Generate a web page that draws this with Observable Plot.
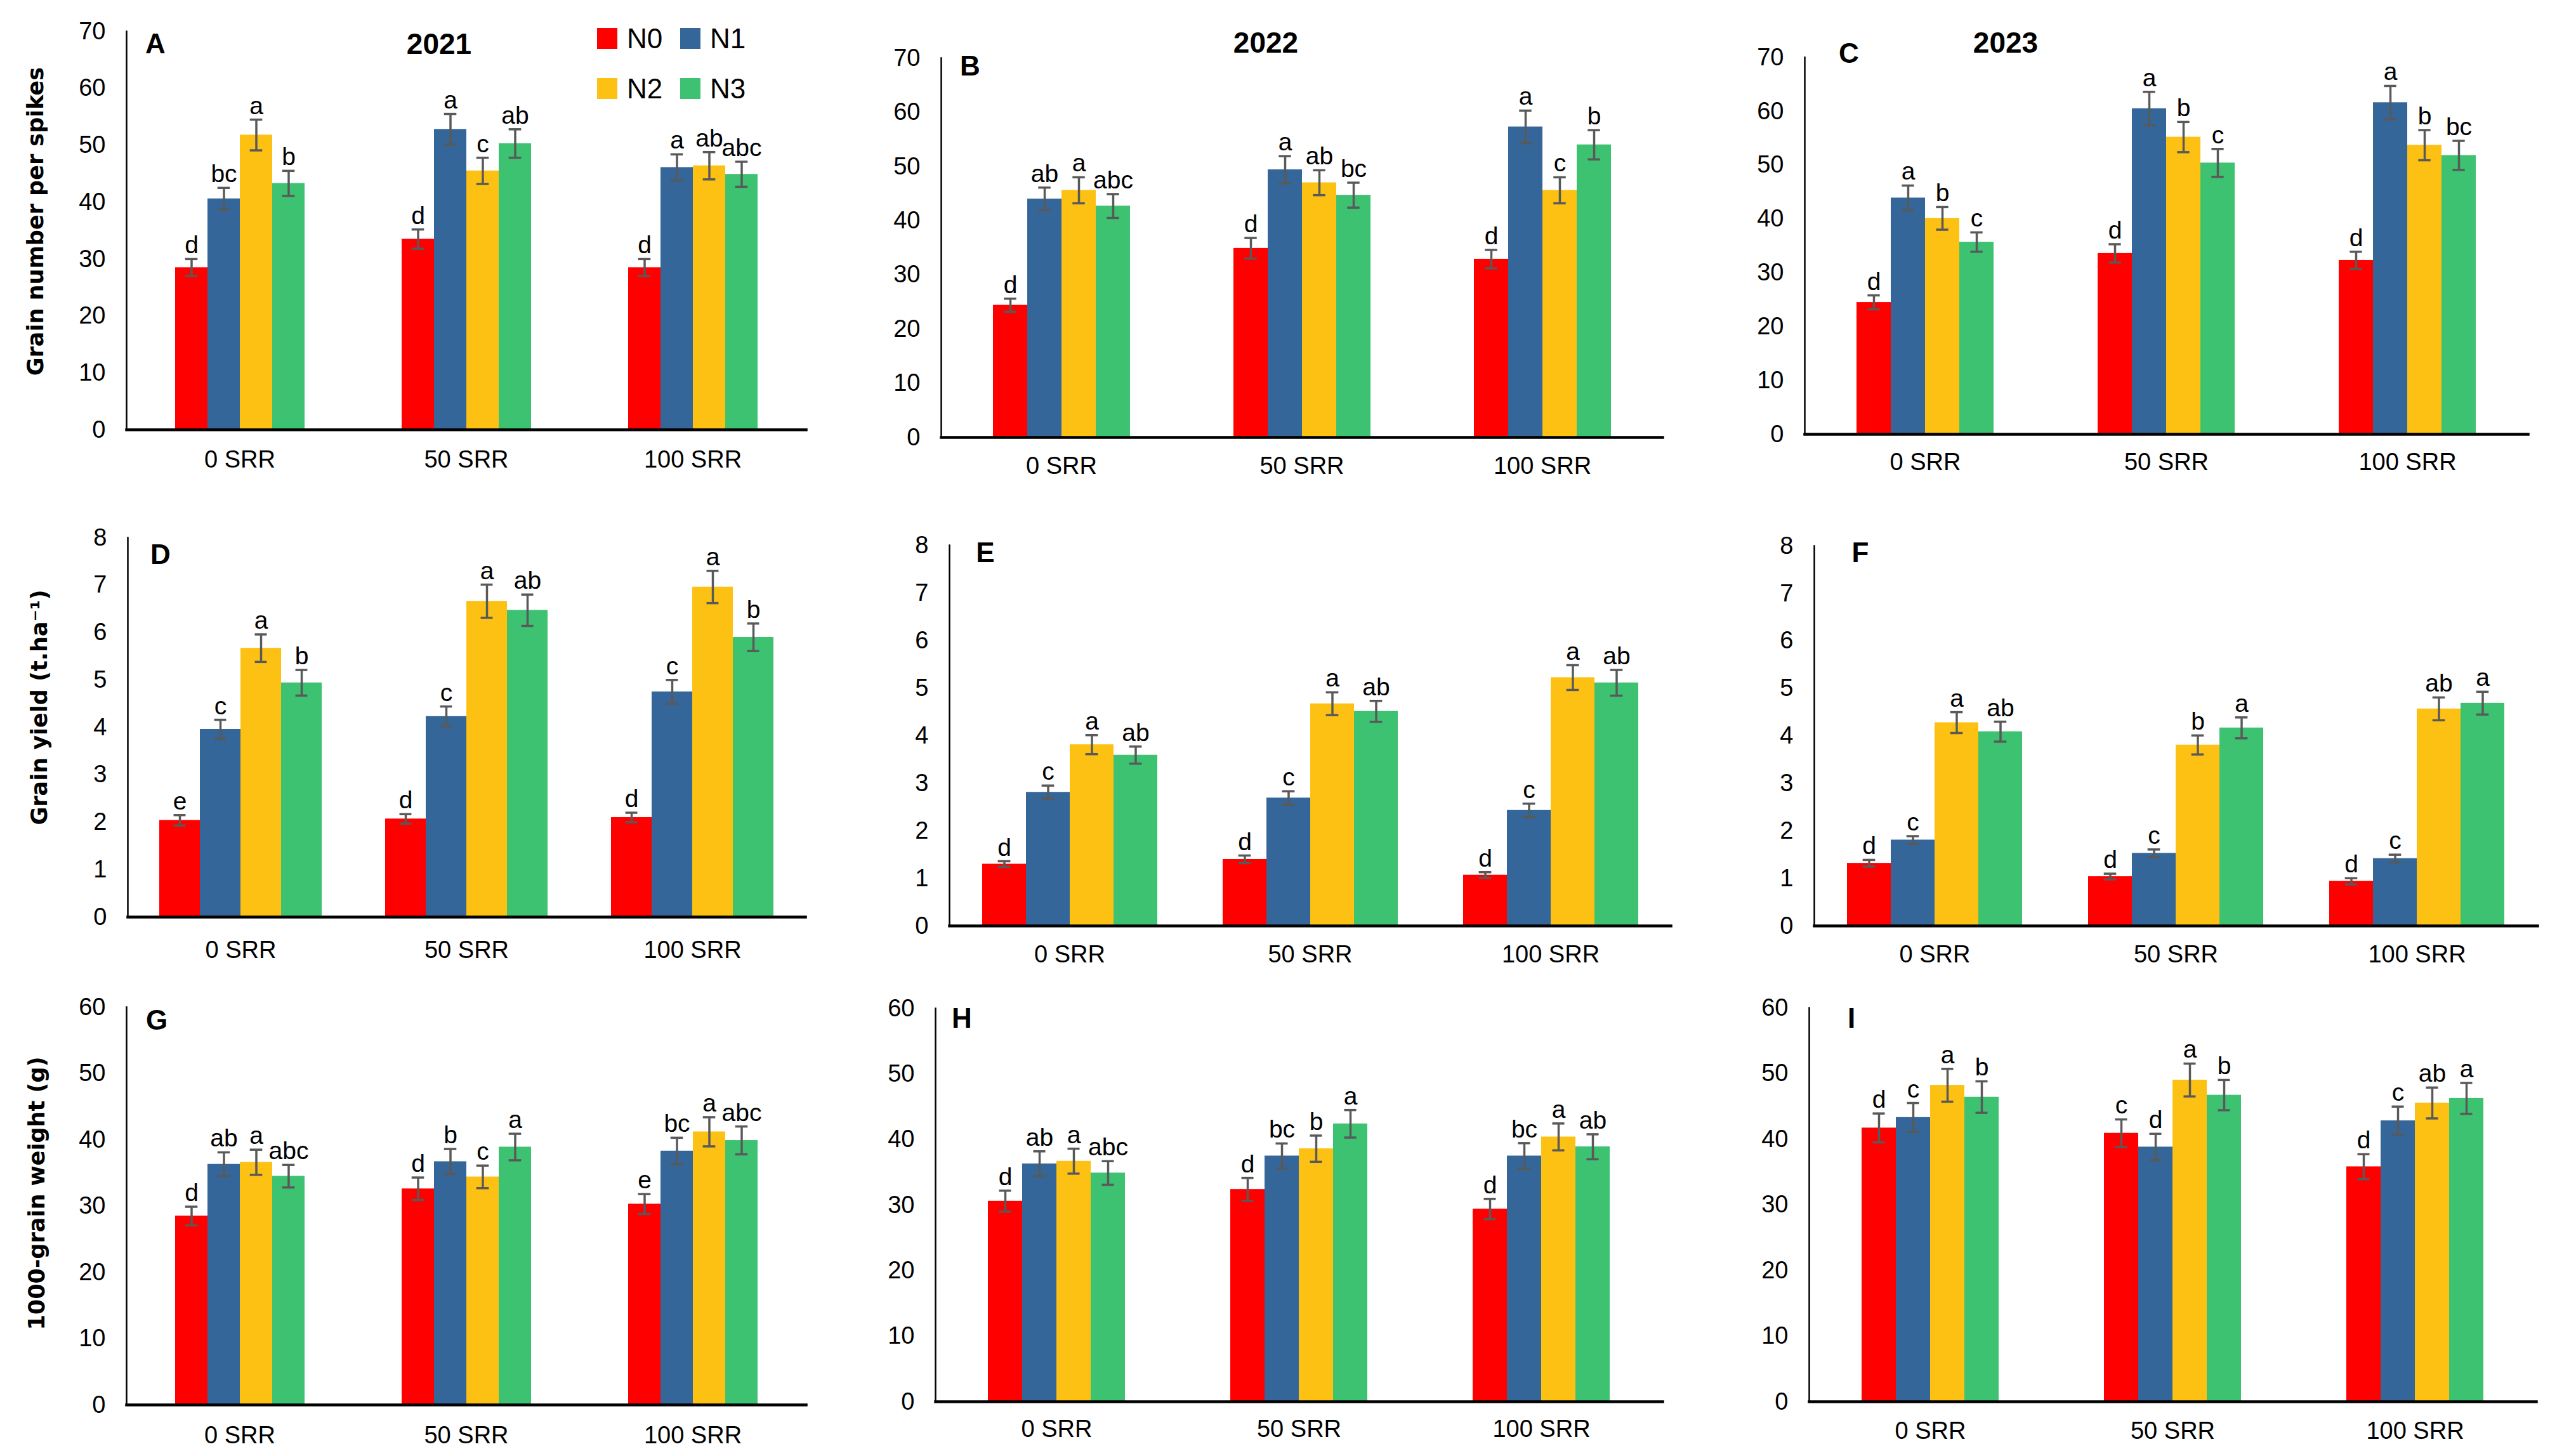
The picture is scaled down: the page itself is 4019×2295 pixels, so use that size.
<!DOCTYPE html>
<html><head><meta charset="utf-8">
<script src="https://cdn.jsdelivr.net/npm/d3@7"></script>
<script src="https://cdn.jsdelivr.net/npm/@observablehq/plot@0.6"></script>
<style>
html,body{margin:0;padding:0;background:#fff;}
#root{position:relative;width:4019px;height:2295px;overflow:hidden;font-family:"Liberation Sans",Arial,sans-serif;color:#000;}
.panel{position:absolute;}
.lbl{position:absolute;transform:translate(-50%,-50%);font-weight:bold;white-space:nowrap;line-height:1;}
.ytitle{position:absolute;transform:translate(-50%,-50%) rotate(-90deg);font-family:"DejaVu Sans",sans-serif;font-weight:bold;font-size:35px;white-space:nowrap;line-height:1;}
.sw{position:absolute;}
.lt{position:absolute;transform:translateY(-50%);font-size:44px;line-height:1;}
</style></head>
<body><div id="root"></div>
<script>
// ---------- data ----------
const categories = ["0 SRR", "50 SRR", "100 SRR"];
const levels = ["N0", "N1", "N2", "N3"];
const years = ["2021", "2022", "2023"];
const yTitles = ["Grain number per spikes", "Grain yield (t.ha\u207B\u00B9)", "1000-grain weight (g)"];

// values[category][level]
const grainNumber2021 = [[28.5, 40.6, 51.8, 43.3], [33.5, 52.8, 45.5, 50.3], [28.5, 46.1, 46.4, 44.9]];
const grainNumber2021Err = [[1.5, 1.9, 2.7, 2.2], [1.7, 2.7, 2.3, 2.5], [1.5, 2.3, 2.4, 2.2]];
const grainNumber2021Sig = [["d", "bc", "a", "b"], ["d", "a", "c", "ab"], ["d", "a", "ab", "abc"]];

const grainNumber2022 = [[24.4, 44.0, 45.6, 42.7], [34.9, 49.4, 47.0, 44.7], [32.9, 57.3, 45.6, 54.0]];
const grainNumber2022Err = [[1.2, 2.1, 2.4, 2.2], [1.9, 2.5, 2.3, 2.3], [1.7, 3.0, 2.4, 2.7]];
const grainNumber2022Sig = [["d", "ab", "a", "abc"], ["d", "a", "ab", "bc"], ["d", "a", "c", "b"]];

const grainNumber2023 = [[24.5, 43.9, 40.1, 35.7], [33.6, 60.5, 55.2, 50.4], [32.3, 61.6, 53.7, 51.8]];
const grainNumber2023Err = [[1.3, 2.3, 2.1, 1.8], [1.7, 3.1, 2.8, 2.6], [1.6, 3.1, 2.8, 2.7]];
const grainNumber2023Sig = [["d", "a", "b", "c"], ["d", "a", "b", "c"], ["d", "a", "b", "bc"]];

const grainYield2021 = [[2.04, 3.96, 5.67, 4.94], [2.07, 4.23, 6.66, 6.47], [2.10, 4.75, 6.96, 5.90]];
const grainYield2021Err = [[0.11, 0.20, 0.29, 0.27], [0.10, 0.21, 0.35, 0.33], [0.10, 0.25, 0.34, 0.29]];
const grainYield2021Sig = [["e", "c", "a", "b"], ["d", "c", "a", "ab"], ["d", "c", "a", "b"]];

const grainYield2022 = [[1.30, 2.81, 3.81, 3.59], [1.40, 2.69, 4.67, 4.51], [1.07, 2.43, 5.22, 5.11]];
const grainYield2022Err = [[0.06, 0.14, 0.20, 0.18], [0.08, 0.14, 0.24, 0.22], [0.06, 0.14, 0.26, 0.27]];
const grainYield2022Sig = [["d", "c", "a", "ab"], ["d", "c", "a", "ab"], ["d", "c", "a", "ab"]];

const grainYield2023 = [[1.32, 1.81, 4.28, 4.09], [1.04, 1.53, 3.81, 4.17], [0.94, 1.42, 4.57, 4.69]];
const grainYield2023Err = [[0.07, 0.08, 0.22, 0.21], [0.06, 0.08, 0.20, 0.22], [0.065, 0.08, 0.24, 0.24]];
const grainYield2023Sig = [["d", "c", "a", "ab"], ["d", "c", "b", "a"], ["d", "c", "ab", "a"]];

const grainWeight2021 = [[28.5, 36.3, 36.6, 34.5], [32.6, 36.7, 34.4, 38.9], [30.3, 38.3, 41.2, 39.9]];
const grainWeight2021Err = [[1.4, 1.8, 1.9, 1.7], [1.7, 1.9, 1.7, 2.0], [1.5, 2.0, 2.2, 2.1]];
const grainWeight2021Sig = [["d", "ab", "a", "abc"], ["d", "b", "c", "a"], ["e", "bc", "a", "abc"]];

const grainWeight2022 = [[30.6, 36.3, 36.7, 34.9], [32.4, 37.5, 38.6, 42.4], [29.4, 37.5, 40.4, 38.9]];
const grainWeight2022Err = [[1.6, 1.9, 1.9, 1.8], [1.75, 1.9, 2.0, 2.1], [1.55, 1.95, 2.05, 1.9]];
const grainWeight2022Sig = [["d", "ab", "a", "abc"], ["d", "bc", "b", "a"], ["d", "bc", "a", "ab"]];

const grainWeight2023 = [[41.7, 43.3, 48.2, 46.4], [40.9, 38.8, 49.0, 46.7], [35.8, 42.8, 45.5, 46.2]];
const grainWeight2023Err = [[2.2, 2.2, 2.5, 2.4], [2.1, 2.0, 2.5, 2.3], [1.9, 2.15, 2.35, 2.35]];
const grainWeight2023Sig = [["d", "c", "a", "b"], ["c", "d", "a", "b"], ["d", "c", "ab", "a"]];

const yTicksNumber = [0, 10, 20, 30, 40, 50, 60, 70];
const yTicksYield = [0, 1, 2, 3, 4, 5, 6, 7, 8];
const yTicksWeight = [0, 10, 20, 30, 40, 50, 60];

// ---------- styles / layout ----------
const colors = ["#FF0000", "#34669A", "#FDC113", "#3CC271"];
const errColor = "#595959";

const panels = [
  {tag: "A", v: grainNumber2021, e: grainNumber2021Err, s: grainNumber2021Sig, ticks: yTicksNumber, left: 0, top: 0, w: 1340, h: 770, ml: 198, mr: 70, mt: 49, mb: 93, fill: 0.575, lab: 46, tx: 245, ty: 69},
  {tag: "B", v: grainNumber2022, e: grainNumber2022Err, s: grainNumber2022Sig, ticks: yTicksNumber, left: 1340, top: 0, w: 1340, h: 770, ml: 142, mr: 60, mt: 91, mb: 81, fill: 0.575, lab: 44, tx: 1529, ty: 104},
  {tag: "C", v: grainNumber2023, e: grainNumber2023Err, s: grainNumber2023Sig, ticks: yTicksNumber, left: 2680, top: 0, w: 1339, h: 770, ml: 163, mr: 35, mt: 90, mb: 86, fill: 0.575, lab: 43, tx: 2914, ty: 84},
  {tag: "D", v: grainYield2021, e: grainYield2021Err, s: grainYield2021Sig, ticks: yTicksYield, left: 0, top: 770, w: 1340, h: 770, ml: 200, mr: 70, mt: 77, mb: 95, fill: 0.73, lab: 51, tx: 253, ty: 874},
  {tag: "E", v: grainYield2022, e: grainYield2022Err, s: grainYield2022Sig, ticks: yTicksYield, left: 1340, top: 770, w: 1340, h: 770, ml: 155, mr: 47, mt: 89, mb: 81, fill: 0.73, lab: 44, tx: 1553, ty: 871},
  {tag: "F", v: grainYield2023, e: grainYield2023Err, s: grainYield2023Sig, ticks: yTicksYield, left: 2680, top: 770, w: 1339, h: 770, ml: 178, mr: 20, mt: 90, mb: 81, fill: 0.73, lab: 44, tx: 2932, ty: 871},
  {tag: "G", v: grainWeight2021, e: grainWeight2021Err, s: grainWeight2021Sig, ticks: yTicksWeight, left: 0, top: 1540, w: 1340, h: 755, ml: 198, mr: 70, mt: 47, mb: 81, fill: 0.575, lab: 47, tx: 247, ty: 1608},
  {tag: "H", v: grainWeight2022, e: grainWeight2022Err, s: grainWeight2022Sig, ticks: yTicksWeight, left: 1340, top: 1540, w: 1340, h: 755, ml: 133, mr: 60, mt: 49, mb: 86, fill: 0.575, lab: 42, tx: 1516, ty: 1605},
  {tag: "I", v: grainWeight2023, e: grainWeight2023Err, s: grainWeight2023Sig, ticks: yTicksWeight, left: 2680, top: 1540, w: 1339, h: 755, ml: 170, mr: 22, mt: 48, mb: 86, fill: 0.575, lab: 45, tx: 2918, ty: 1605}
];
const yearPos = [[692, 69], [1995, 67], [3161, 67]];
const yTitlePos = [[56, 349], [62, 1115], [58, 1881]];

const root = document.getElementById("root");

function addDiv(cls, text, x, y, extra) {
  const d = document.createElement("div");
  d.className = cls;
  d.textContent = text;
  d.style.left = x + "px";
  d.style.top = y + "px";
  if (extra) Object.assign(d.style, extra);
  root.appendChild(d);
  return d;
}

for (const p of panels) {
  const rows = categories.flatMap((c, i) => levels.map((n, j) => ({cat: c, n, v: p.v[i][j], e: p.e[i][j], s: p.s[i][j]})));
  const step = (p.w - p.ml - p.mr) / 3;
  const bw = step * p.fill / 4;
  const ins = Math.max(0, (bw - 20) / 2);
  const k = 2 * (1 - p.fill) / p.fill; // outer padding of the N bands inside each SRR group
  const yMax = p.ticks[p.ticks.length - 1];
  const chart = Plot.plot({
    width: p.w, height: p.h,
    marginLeft: p.ml, marginRight: p.mr, marginTop: p.mt, marginBottom: p.mb,
    style: {fontFamily: "'Liberation Sans', Arial, sans-serif", fontSize: "38px", color: "#000", background: "transparent", overflow: "visible"},
    fx: {domain: categories, padding: 0, axis: "bottom", label: null, tickSize: 0, tickPadding: p.lab - 13, fontSize: 37},
    x: {domain: levels, paddingInner: 0, paddingOuter: k, axis: null},
    y: {domain: [0, yMax], ticks: p.ticks, tickSize: 0, tickPadding: 33, label: null, tickFormat: d => String(d)},
    color: {domain: levels, range: colors},
    marks: [
      Plot.barY(rows, {fx: "cat", x: "n", y: "v", fill: "n"}),
      Plot.ruleX(rows, {fx: "cat", x: "n", y1: d => d.v - d.e, y2: d => d.v + d.e, stroke: errColor, strokeWidth: 3.5}),
      Plot.tickY(rows, {fx: "cat", x: "n", y: d => d.v + d.e, stroke: errColor, strokeWidth: 3.5, insetLeft: ins, insetRight: ins}),
      Plot.tickY(rows, {fx: "cat", x: "n", y: d => d.v - d.e, stroke: errColor, strokeWidth: 3.5, insetLeft: ins, insetRight: ins}),
      Plot.text(rows, {fx: "cat", x: "n", y: d => d.v + d.e, text: "s", lineAnchor: "bottom", dy: -9, fontSize: 39, fill: "#000"}),
      Plot.frame({anchor: "bottom", facet: "super", stroke: "#000", strokeWidth: 4.5}),
      Plot.frame({anchor: "left", facet: "super", stroke: "#000", strokeWidth: 2.5})
    ]
  });
  const holder = document.createElement("div");
  holder.className = "panel";
  holder.style.left = p.left + "px";
  holder.style.top = p.top + "px";
  holder.appendChild(chart);
  root.appendChild(holder);
  addDiv("lbl", p.tag, p.tx, p.ty, {fontSize: "44px"});
}

years.forEach((yr, i) => addDiv("lbl", yr, yearPos[i][0], yearPos[i][1], {fontSize: "46px"}));
yTitles.forEach((t, i) => addDiv("ytitle", t, yTitlePos[i][0], yTitlePos[i][1]));

// legend
const legendPos = [[941, 44], [1072, 44], [941, 123], [1072, 123]];
levels.forEach((n, i) => {
  const [x, y] = legendPos[i];
  const sw = document.createElement("div");
  sw.className = "sw";
  Object.assign(sw.style, {left: x + "px", top: y + "px", width: "32px", height: "33px", background: colors[i]});
  root.appendChild(sw);
  addDiv("lt", n, x + 47, y + 17);
});
</script>
</body></html>
